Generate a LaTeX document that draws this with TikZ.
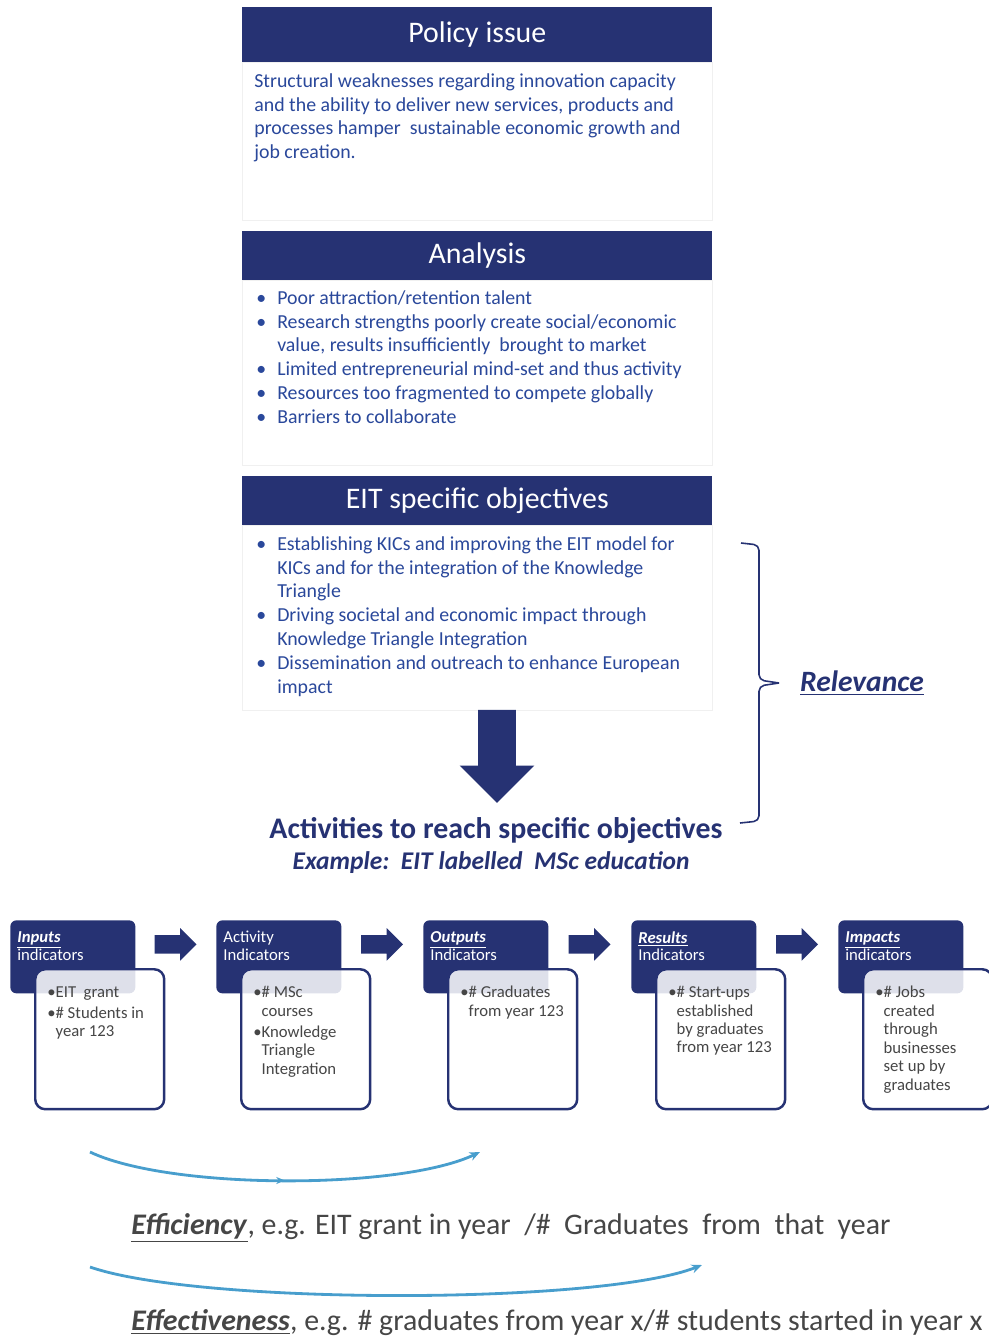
\documentclass[tikz,border=0pt]{standalone}
\usepackage{fontspec}
\setmainfont{Carlito}
\usetikzlibrary{shapes,arrows,arrows.meta,calc,decorations.markings}

\definecolor{navy}{RGB}{38,50,115}
\definecolor{bodyblue}{RGB}{42,72,155}
\definecolor{boxgray}{RGB}{70,70,70}
\definecolor{curveblue}{RGB}{72,158,205}

\newcommand{\bul}{\makebox[11.9pt][l]{\textbullet}}
\newcommand{\ind}{\hspace*{11.9pt}}
\newcommand{\uline}[1]{\underline{\textbf{\textit{#1}}}}

\begin{document}
\begin{tikzpicture}[x=0.02cm,y=-0.02cm,
	title/.style={fill=navy,text=white,minimum width=9.4cm,anchor=north west,inner sep=0,font=\fontsize{17}{20}\selectfont},
	body/.style={fill=white,draw=black!6,minimum width=9.4cm,anchor=north west,inner sep=0},
	btext/.style={anchor=north west,inner sep=0,align=left,text=bodyblue,font=\fontsize{11.3}{13.6}\selectfont},
	hdbox/.style={fill=navy,rounded corners=0.12cm,minimum width=2.5cm,minimum height=1.46cm,anchor=north west,inner sep=0},
	wbox/.style={draw=navy,line width=1.4pt,fill=white,fill opacity=0.85,rounded corners=0.2cm,minimum width=2.58cm,minimum height=2.8cm,anchor=north west,inner sep=0},
	hdtext/.style={anchor=north west,inner sep=0,align=left,text=white,font=\fontsize{9.5}{10.2}\selectfont},
	bxtext/.style={anchor=north west,inner sep=0,align=left,text=boxgray,font=\fontsize{9.5}{10.5}\selectfont},
	smallarrow/.style={single arrow,fill=navy,inner sep=0.18cm,single arrow head extend=0.14cm,minimum height=0.84cm,single arrow head indent=0},
	curve/.style={curveblue,line width=1.6pt,-{Stealth[length=6pt,width=5pt]}}]
	\useasboundingbox (0,0) rectangle (989,1340);
	
	% policy issue
	\node[body,minimum height=3.16cm] (pbody) at (242,62) {};
	\node[title,minimum height=1.1cm] (policy) at (242,7) {Policy issue};
	\node[btext] (ptext) at (254,73) {Structural weaknesses regarding innovation capacity\\
		and the ability to deliver new services, products and\\
		processes hamper\ \ sustainable economic growth and\\
		job creation.};
	
	% analysis
	\node[body,minimum height=3.7cm] (abody) at (242,280) {};
	\node[title,minimum height=0.98cm] (analysis) at (242,231) {Analysis};
	\node[btext] (atext) at (256,290) {\bul Poor attraction/retention talent\\
		\bul Research strengths poorly create social/economic\\
		\ind value, results insufficiently\ \ brought to market\\
		\bul Limited entrepreneurial mind-set and thus activity\\
		\bul Resources too fragmented to compete globally\\
		\bul Barriers to collaborate};
	
	% objectives
	\node[body,minimum height=3.7cm] (obody) at (242,525) {};
	\node[title,minimum height=0.98cm] (objectives) at (242,476) {EIT specific objectives};
	\node[btext] (otext) at (256,536) {\bul Establishing KICs and improving the EIT model for\\
		\ind KICs and for the integration of the Knowledge\\
		\ind Triangle\\
		\bul Driving societal and economic impact through\\
		\ind Knowledge Triangle Integration\\
		\bul Dissemination and outreach to enhance European\\
		\ind impact};
	
	\node[single arrow,shape border rotate=270,fill=navy,inner sep=0.37cm,single arrow head extend=0.37cm,minimum height=1.86cm,single arrow head indent=0] (down) at (497,747) {};
	
	\node[text=navy,font=\bfseries\fontsize{17}{20}\selectfont] (act) at (496,831) {Activities to reach specific objectives};
	\node[text=navy,font=\bfseries\itshape\fontsize{14.5}{17}\selectfont] (example) at (491,863) {Example:\ \ EIT labelled\ \ MSc education};
	
	% relevance bracket
	\draw[navy,line width=0.9pt,rounded corners=3pt] (741,543) -- (759,545) -- (759,680) -- (779,683);
	\draw[navy,line width=0.9pt,rounded corners=3pt] (779,683) -- (759,686) -- (759,821) -- (740,823);
	\node[text=navy,font=\fontsize{16.8}{20}\selectfont] (relevance) at (862,683) {\uline{Relevance}};
	
	% indicator chain
	\foreach \n/\x/\hd/\bx in {
		1/10/{\uline{Inputs}\\indicators}/{•EIT\ \ grant\\[1.5pt]•\# Students in\\\phantom{•}year 123},
		2/216/{Activity\\Indicators}/{•\# MSc\\\phantom{•}courses\\[1.5pt]•Knowledge\\\phantom{•}Triangle\\\phantom{•}Integration},
		3/423/{\uline{Outputs}\\Indicators}/{•\# Graduates\\\phantom{•}from year 123},
		4/631/{\uline{Results}\\Indicators}/{•\# Start-ups\\\phantom{•}established\\\phantom{•}by graduates\\\phantom{•}from year 123},
		5/838/{\uline{Impacts}\\indicators}/{•\# Jobs\\\phantom{•}created\\\phantom{•}through\\\phantom{•}businesses\\\phantom{•}set up by\\\phantom{•}graduates}}{
		\node[hdbox] (h\n) at (\x,920) {};
		\node[wbox] (b\n) at (\x+24,968) {};
		\node[hdtext] (t\n) at (\x+7,931) {\hd};
		\node[bxtext] (i\n) at (\x+37,986) {\bx};
	}
	\foreach \a/\b in {1/2,2/3,3/4,4/5}
		\node[smallarrow] (s\a) at ($(h\a.east)!0.5!(h\b.west)+(-5,-12.5)$) {};
	
	% efficiency and effectiveness
	\coordinate (e1) at (90,1152);
	\coordinate (e2) at (480,1152);
	\coordinate (f1) at (90,1267);
	\coordinate (f2) at (702,1265);
	\draw[curve,postaction={decorate},decoration={markings,mark=at position 0.5 with {\arrow{Stealth[length=5pt,width=4pt]}}}] (e1) .. controls (170,1190) and (400,1190) .. (e2);
	\draw[curve] (f1) .. controls (200,1305) and (600,1305) .. (f2);
	
	\node[anchor=west,inner sep=0,text=boxgray,font=\fontsize{17}{20}\selectfont] (eff) at (131,1228) {\uline{Efficiency}, e.g. EIT grant in year\ \ /\#\ \ Graduates\ \ from\ \ that\ \ year};
	\node[anchor=west,inner sep=0,text=boxgray,font=\fontsize{17}{20}\selectfont] (effect) at (131,1323) {\uline{Effectiveness}, e.g. \# graduates from year x/\# students started in year x};
\end{tikzpicture}
\end{document}
